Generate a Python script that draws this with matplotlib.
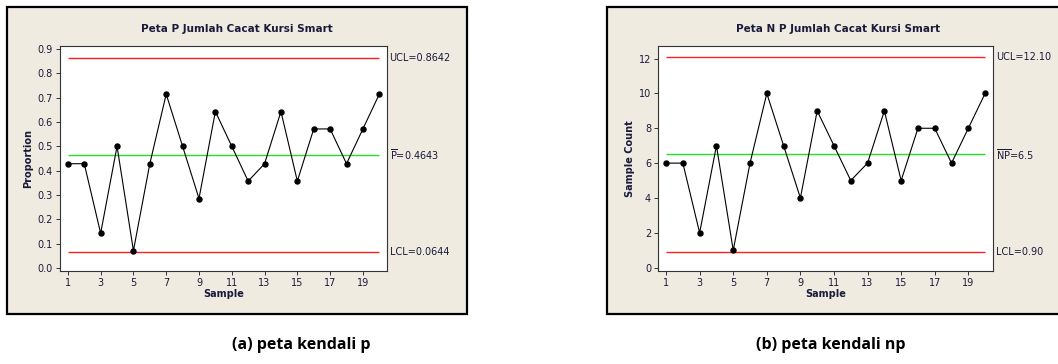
import matplotlib.pyplot as plt
from matplotlib.patches import Rectangle

# data: defects per sample (n = 14 per sample)
samples = list(range(1, 21))
np_counts = [6, 6, 2, 7, 1, 6, 10, 7, 4, 9, 7, 5, 6, 9, 5, 8, 8, 6, 8, 10]
n_size = 14
p_values = [c / n_size for c in np_counts]

p_ucl, p_center, p_lcl = 0.8642, 0.4643, 0.0644
np_ucl, np_center, np_lcl = 12.10, 6.5, 0.90

W, H = 1058, 364
fig = plt.figure(figsize=(W / 100, H / 100), dpi=100)
fig.patch.set_facecolor("white")

panel_bg = "#EFEBE1"
txt_col = "#1a1a3a"


def px_rect(x0, y0, x1, y1):
    # pixel box (top-left origin) -> figure fraction rect
    return [x0 / W, (H - y1) / H, (x1 - x0) / W, (y1 - y0) / H]


def panel(x0, y0, x1, y1):
    r = px_rect(x0, y0, x1, y1)
    fig.patches.append(Rectangle((r[0], r[1]), r[2], r[3], transform=fig.transFigure,
                                 facecolor=panel_bg, edgecolor="black", linewidth=1.6,
                                 zorder=-5))


panel(7, 7, 467, 314)
panel(607, 7, 1062, 314)


def control_chart(rect, yvals, ucl, center, lcl, ylim, yticks, ylabel, labels, title, title_x):
    ax = fig.add_axes(rect)
    ax.set_zorder(2)
    ax.set_facecolor("white")
    ax.plot(samples, yvals, color="black", linewidth=0.8, marker="o", markersize=3.6, zorder=3)
    ax.hlines([ucl, lcl], 1, 20, colors="#FF2020", linewidth=1.0, zorder=2)
    ax.hlines(center, 1, 20, colors="#22E022", linewidth=1.0, zorder=2)
    ax.set_xlim(0.52, 20.47)
    ax.set_ylim(*ylim)
    ax.set_xticks(range(1, 21, 2))
    ax.set_yticks(yticks)
    if isinstance(yticks[0], float):
        ax.set_yticklabels([f"{t:.1f}" for t in yticks])
    ax.tick_params(labelsize=7, length=3, width=0.7, colors="#333333",
                   labelcolor=txt_col, pad=2)
    for s in ax.spines.values():
        s.set_linewidth(0.8)
        s.set_color("#333333")
    ax.set_xlabel("Sample", fontsize=7, fontweight="bold", color=txt_col, labelpad=1)
    ax.set_ylabel(ylabel, fontsize=7, fontweight="bold", color=txt_col, labelpad=3)
    for val, lab in zip([ucl, center, lcl], labels):
        ax.text(1.008, val, lab, transform=ax.get_yaxis_transform(), fontsize=7,
                color=txt_col, va="center", ha="left")
    fig.text(title_x / W, 1 - 29 / H, title, fontsize=7.5, fontweight="bold",
             color=txt_col, ha="center", va="center")
    return ax


control_chart(px_rect(60, 46, 387, 271), p_values, p_ucl, p_center, p_lcl,
              (-0.012, 0.912), [0.0, 0.1, 0.2, 0.3, 0.4, 0.5, 0.6, 0.7, 0.8, 0.9],
              "Proportion",
              ["UCL=0.8642", r"$\overline{\mathregular{P}}$=0.4643", "LCL=0.0644"],
              "Peta P Jumlah Cacat Kursi Smart", 237)

control_chart(px_rect(658, 46, 993, 271), np_counts, np_ucl, np_center, np_lcl,
              (-0.19, 12.72), [0, 2, 4, 6, 8, 10, 12],
              "Sample Count",
              ["UCL=12.10", r"$\overline{\mathregular{NP}}$=6.5", "LCL=0.90"],
              "Peta N P Jumlah Cacat Kursi Smart", 838)

# captions
fig.text(301 / W, 1 - 345 / H, "(a) peta kendali p", fontsize=11.5, fontweight="bold",
         family="Open Sans", ha="center", va="center", color="black")
fig.text(831 / W, 1 - 345 / H, "(b) peta kendali np", fontsize=11.5, fontweight="bold",
         family="Open Sans", ha="center", va="center", color="black")

fig.savefig("out.png", dpi=100)
